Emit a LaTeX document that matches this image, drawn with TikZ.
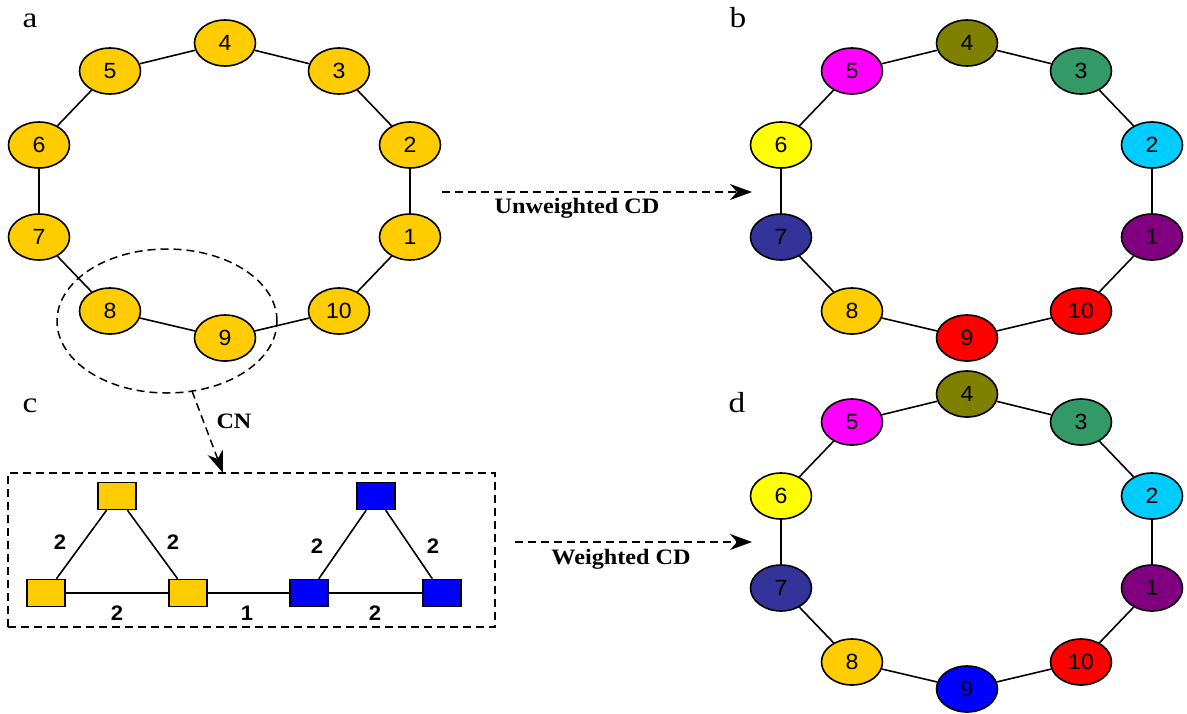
\documentclass[tikz,border=0pt]{standalone}
\usepackage{graphicx}
\usepackage{fontspec}
\setmainfont{Liberation Serif}
\setsansfont{Liberation Sans}
\usetikzlibrary{shapes.geometric,arrows.meta}
\definecolor{gold}{HTML}{FFCC00}
\definecolor{olivec}{HTML}{808000}
\definecolor{seagr}{HTML}{339966}
\definecolor{skyc}{HTML}{00CCFF}
\definecolor{purp}{HTML}{800080}
\definecolor{redc}{HTML}{FF0000}
\definecolor{navyc}{HTML}{333399}
\definecolor{yel}{HTML}{FFFF00}
\definecolor{mag}{HTML}{FF00FF}
\definecolor{bluec}{HTML}{0000FF}
\newcommand{\sx}[2][1.05]{\scalebox{#1}[1]{#2}}
\tikzset{
  vtx/.style={ellipse, draw, line width=1.6pt, minimum width=61pt, minimum height=46pt, inner sep=0pt, font=\sffamily\fontsize{22}{22}\selectfont},
  sqn/.style={rectangle, draw, line width=1.6pt, minimum width=38pt, minimum height=27pt, inner sep=0pt},
  edge/.style={line width=1.6pt},
  dsh/.style={dash pattern=on 8pt off 5pt, line width=1.5pt},
  arr/.style={dsh, -{Stealth[length=22pt, width=16pt, inset=7pt]}},
  panel/.style={font=\fontsize{29}{29}\selectfont, anchor=base, inner sep=0pt},
  captxt/.style={font=\bfseries\fontsize{22}{22}\selectfont, inner sep=0pt},
  wlbl/.style={font=\sffamily\bfseries\fontsize{21}{21}\selectfont, inner sep=0pt},
}
\begin{document}
\begin{tikzpicture}[x=1pt, y=-1pt]
\useasboundingbox (0,0) rectangle (1187,713);
% panel labels
\node[panel] (la) at (30,27) {\sx[1.15]{a}};
\node[panel] (lb) at (738,27) {\sx[1.15]{b}};
\node[panel] (lc) at (30,412) {\sx[1.15]{c}};
\node[panel] (ld) at (737,412) {\sx[1.15]{d}};
% group ellipse
\node[ellipse, draw, dsh, minimum width=220pt, minimum height=144pt, inner sep=0pt] (grp) at (167,321) {};
% rings
\foreach \i/\x/\y/\c in {1/410/237/gold, 2/410/145/gold, 3/339/71/gold, 4/225/43/gold, 5/110/71/gold, 6/39/145/gold, 7/39/237/gold, 8/110/311/gold, 9/225/338/gold, 10/339/311/gold}
  \node[vtx, fill=\c] (a\i) at (\x,\y) {\sx{\i}};
\foreach \i/\x/\y/\c in {1/410/237/purp, 2/410/145/skyc, 3/339/71/seagr, 4/225/43/olivec, 5/110/71/mag, 6/39/145/yel, 7/39/237/navyc, 8/110/311/gold, 9/225/338/redc, 10/339/311/redc}
  \node[vtx, fill=\c] (b\i) at (\x+742,\y) {\sx{\i}};
\foreach \i/\x/\y/\c in {1/410/237/purp, 2/410/145/skyc, 3/339/71/seagr, 4/225/43/olivec, 5/110/71/mag, 6/39/145/yel, 7/39/237/navyc, 8/110/311/gold, 9/225/338/bluec, 10/339/311/redc}
  \node[vtx, fill=\c] (d\i) at (\x+742,\y+351) {\sx{\i}};
\foreach \p in {a,b,d}
  \foreach \i/\j in {1/2,2/3,3/4,4/5,5/6,6/7,7/8,8/9,9/10,10/1}
    \draw[edge] (\p\i) -- (\p\j);
% CN box
\node[draw, dsh, minimum width=487pt, minimum height=154pt, inner sep=0pt] (cnbox) at (251.5,550) {};
\coordinate (cnstart) at (192,391);
\coordinate (cntip) at (223,473);
\draw[arr] (cnstart) -- (cntip);
\node[captxt] (cn) at (234,421) {\sx[1.1]{CN}};
% squares
\node[sqn, fill=gold] (gt) at (117,496) {};
\node[sqn, fill=gold] (gl) at (46,593) {};
\node[sqn, fill=gold] (gm) at (188,593) {};
\node[sqn, fill=bluec] (bt) at (376,496) {};
\node[sqn, fill=bluec] (bl) at (309,593) {};
\node[sqn, fill=bluec] (br) at (442,593) {};
\draw[edge] (gt) -- (gl);
\draw[edge] (gt) -- (gm);
\draw[edge] (gl) -- (gm);
\draw[edge] (gm) -- (bl);
\draw[edge] (bt) -- (bl);
\draw[edge] (bt) -- (br);
\draw[edge] (bl) -- (br);
\node[wlbl] (w1) at (60,542) {\sx{2}};
\node[wlbl] (w2) at (173,542) {\sx{2}};
\node[wlbl] (w3) at (117,613) {\sx{2}};
\node[wlbl] (w4) at (247,613) {\sx{1}};
\node[wlbl] (w5) at (317,546) {\sx{2}};
\node[wlbl] (w6) at (433,546) {\sx{2}};
\node[wlbl] (w7) at (375,613) {\sx{2}};
% CD arrows
\coordinate (u1) at (442,192);
\coordinate (u2) at (752,192);
\draw[arr] (u1) -- (u2);
\node[captxt] (ucd) at (577,208) {\sx[1.1]{Unweighted CD}};
\coordinate (w1s) at (515,542);
\coordinate (w1e) at (752,542);
\draw[arr] (w1s) -- (w1e);
\node[captxt] (wcd) at (621,559) {\sx[1.1]{Weighted CD}};
\end{tikzpicture}
\end{document}
